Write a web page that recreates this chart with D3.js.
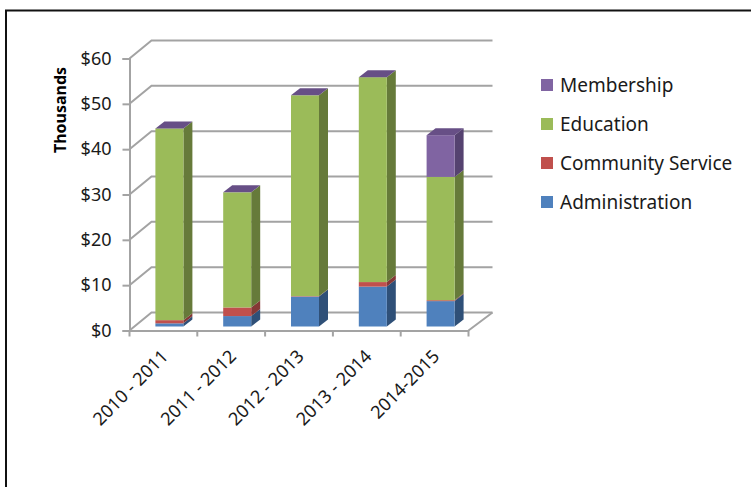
<!DOCTYPE html>
<html>
<head>
<meta charset="utf-8">
<script src="https://cdn.jsdelivr.net/npm/d3@7"></script>
<style>
body { margin: 0; background: #fff; }
svg { display: block; }
text { font-family: "Noto Sans", sans-serif; fill: #1a1a1a; }
</style>
</head>
<body>
<svg id="chart" width="751" height="487"></svg>
<script>
const years = ['2010 - 2011', '2011 - 2012', '2012 - 2013', '2013 - 2014', '2014-2015']
const administration = [0.7, 2.3, 6.6, 8.8, 5.6]
const communityService = [0.7, 1.9, 0.1, 1.0, 0.2]
const education = [42.3, 25.4, 44.3, 45.2, 27.2]
const membership = [0, 0, 0, 0, 9.2]
const yTicks = [0, 10, 20, 30, 40, 50, 60]

const seriesNames = ['Administration', 'Community Service', 'Education', 'Membership']
const seriesColors = ['#4f81bd', '#c0504d', '#9bbb59', '#8064a2']
const sideColors = ['#2f5078', '#853836', '#667a3a', '#554270']
const topColor = '#674f86'

const table = years.map((year, i) => ({
    year,
    Administration: administration[i],
    'Community Service': communityService[i],
    Education: education[i],
    Membership: membership[i]
}))
const stacked = d3.stack().keys(seriesNames)(table)

const grey = '#a3a3a3'
const wall = {dx: 22, dy: -18}     // how far the back wall sits behind the axes
const barShift = {dx: 6, dy: -4}   // front of the bars against the front plane
const depth = {dx: 9, dy: -7}      // bar depth

const x = d3.scaleBand().domain(years).range([129.5, 468.5]).paddingInner(0).paddingOuter(0)
const y = d3.scaleLinear().domain([0, 60]).range([330.5, 58.5])
const barWidth = 28

const svg = d3.select('#chart')

// frame
svg.append('path')
    .attr('d', 'M6,487V10.5H751')
    .attr('fill', 'none')
    .attr('stroke', '#111')
    .attr('stroke-width', 2)

// back wall lines
svg.append('g').selectAll('path')
    .data(yTicks)
    .join('path')
    .attr('fill', 'none')
    .attr('stroke', grey)
    .attr('stroke-width', 2)
    .attr('d', d => d3.line()([
        [x.range()[0], y(d)],
        [x.range()[0] + wall.dx, y(d) + wall.dy],
        [x.range()[1] + wall.dx + 2, y(d) + wall.dy]
    ]))

// floor edge on the right
svg.append('path')
    .attr('fill', 'none')
    .attr('stroke', grey)
    .attr('stroke-width', 2)
    .attr('d', d3.line()([
        [x.range()[1], y(0)],
        [x.range()[1] + wall.dx + 2, y(0) + wall.dy]
    ]))

// y axis
const yAxis = svg.append('g')
    .attr('transform', `translate(${x.range()[0]},0)`)
    .call(d3.axisLeft(y).tickValues(yTicks).tickSize(7).tickPadding(11).tickFormat(d => '$' + d))
yAxis.selectAll('.domain, line').attr('stroke', grey).attr('stroke-width', 2)
yAxis.selectAll('text').style('font-size', '18px')

// x axis, ticks go on the band edges so the labels get their own size 0 ticks
const xAxis = svg.append('g')
    .attr('transform', `translate(0,${y(0)})`)
    .call(d3.axisBottom(x).tickSize(0).tickSizeOuter(0).tickPadding(0))
xAxis.select('.domain').attr('stroke', grey).attr('stroke-width', 2)
xAxis.selectAll('text')
    .style('font-size', '18px')
    .attr('text-anchor', 'end')
    .attr('dy', 0)
    .attr('transform', 'translate(6,27) rotate(-45)')
xAxis.selectAll('.edge')
    .data(years.map(d => x(d)).concat(x.range()[1]))
    .join('line')
    .attr('class', 'edge')
    .attr('x1', d => d).attr('x2', d => d)
    .attr('y1', 0).attr('y2', 6)
    .attr('stroke', grey)
    .attr('stroke-width', 2)

// bars, bottom to top
const barX = d => x(d.data.year) + (x.bandwidth() - barWidth) / 2 + barShift.dx
const barLeft = barX
const barRight = d => barX(d) + barWidth

stacked.forEach((layer, i) => {
    const g = svg.append('g').attr('class', 'layer')
    const shown = layer.filter(d => d[1] > d[0])

    g.selectAll('path.side')
        .data(shown)
        .join('path')
        .attr('class', 'side')
        .attr('fill', sideColors[i])
        .attr('d', d => d3.line()([
            [barRight(d), y(d[0]) + barShift.dy],
            [barRight(d) + depth.dx, y(d[0]) + barShift.dy + depth.dy],
            [barRight(d) + depth.dx, y(d[1]) + barShift.dy + depth.dy],
            [barRight(d), y(d[1]) + barShift.dy]
        ]) + 'Z')

    g.selectAll('rect')
        .data(shown)
        .join('rect')
        .attr('x', barLeft)
        .attr('y', d => y(d[1]) + barShift.dy)
        .attr('width', barWidth)
        .attr('height', d => y(d[0]) - y(d[1]))
        .attr('fill', seriesColors[i])
})

// purple lid on top of every stack
const lastLayer = stacked[stacked.length - 1]
svg.append('g').selectAll('path')
    .data(lastLayer)
    .join('path')
    .attr('fill', topColor)
    .attr('d', d => d3.line()([
        [barLeft(d), y(d[1]) + barShift.dy],
        [barLeft(d) + depth.dx, y(d[1]) + barShift.dy + depth.dy],
        [barRight(d) + depth.dx, y(d[1]) + barShift.dy + depth.dy],
        [barRight(d), y(d[1]) + barShift.dy]
    ]) + 'Z')

// y title
svg.append('text')
    .attr('transform', 'translate(66,110) rotate(-90)')
    .attr('text-anchor', 'middle')
    .style('font-size', '16px')
    .style('font-weight', 'bold')
    .style('fill', '#000')
    .text('Thousands')

// legend
const legendY = d3.scalePoint().domain(seriesNames.slice().reverse()).range([85, 202])
const legend = svg.append('g').selectAll('g')
    .data(seriesNames)
    .join('g')
    .attr('transform', d => `translate(541,${legendY(d)})`)
legend.append('rect')
    .attr('y', -6)
    .attr('width', 12)
    .attr('height', 12)
    .attr('fill', (d, i) => seriesColors[i])
legend.append('text')
    .attr('x', 19)
    .attr('dy', '0.35em')
    .style('font-size', '19px')
    .text(d => d)
</script>
</body>
</html>
